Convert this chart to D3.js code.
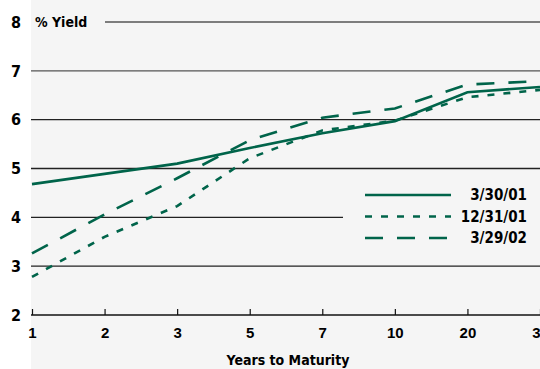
<!DOCTYPE html>
<html>
<head>
<meta charset="utf-8">
<script src="https://cdn.jsdelivr.net/npm/d3@7"></script>
<style>
  body { margin: 0; background: #fff; }
  svg { display: block; font-family: "Liberation Sans Narrow", "DejaVu Sans Condensed", "Liberation Sans", sans-serif; }
</style>
</head>
<body>
<svg id="chart"></svg>
<script>
const width = 540;
const height = 369;
const bg = '#f5f5f5';
const green = '#00644a';

// data
const maturities = ['1', '2', '3', '5', '7', '10', '20', '30'];
const yield033001 = [4.68, 4.89, 5.1, 5.42, 5.72, 5.97, 6.56, 6.67];
const yield123101 = [2.78, 3.6, 4.23, 5.21, 5.78, 5.98, 6.46, 6.61];
const yield032902 = [3.26, 4.06, 4.8, 5.58, 6.04, 6.23, 6.72, 6.79];
const yTicks = [2, 3, 4, 5, 6, 7, 8];

const series = [
  { label: '3/30/01', values: yield033001, dash: null },
  { label: '12/31/01', values: yield123101, dash: '7,9' },
  { label: '3/29/02', values: yield032902, dash: '18,14' },
];

const svg = d3.select('#chart').attr('width', width).attr('height', height);

// grey panel
svg.append('rect')
  .attr('x', 31).attr('y', 0)
  .attr('width', width - 31).attr('height', height)
  .attr('fill', bg);

const x = d3.scalePoint().domain(maturities).range([32, 540]);
const y = d3.scaleLinear().domain([2, 8]).range([315, 22]);

// gridlines
svg.append('g')
  .selectAll('line')
  .data(yTicks.filter(d => d > 2))
  .join('line')
    .attr('x1', d => d === 8 ? 105 : 31)
    .attr('x2', width)
    .attr('y1', d => y(d))
    .attr('y2', d => y(d))
    .attr('stroke', d => d >= 7 ? '#555' : '#222')
    .attr('stroke-width', 1.3);

// legend backing hides part of the 4% line
svg.append('rect')
  .attr('x', 343).attr('y', 182)
  .attr('width', width - 343).attr('height', 68)
  .attr('fill', bg);

// y labels
svg.append('g')
  .selectAll('text')
  .data(yTicks)
  .join('text')
    .attr('x', 16)
    .attr('y', d => y(d))
    .attr('dy', '0.36em')
    .attr('text-anchor', 'middle')
    .style('font-size', '16px')
    .style('font-weight', 'bold')
    .text(d => d);

svg.append('text')
  .attr('x', 35)
  .attr('y', y(8))
  .attr('dy', '0.36em')
  .style('font-size', '14px')
  .style('font-weight', 'bold')
  .text('% Yield');

// x axis, ticks point up
const xAxis = svg.append('g')
  .attr('transform', `translate(0, ${y(2)})`)
  .call(d3.axisBottom(x).tickSizeInner(-6).tickSizeOuter(0).tickPadding(12));
xAxis.select('.domain').attr('d', 'M31,0H540').attr('stroke', '#111').attr('stroke-width', 1.6);
xAxis.selectAll('.tick line').attr('stroke', '#111').attr('stroke-width', 1.2);
xAxis.selectAll('.tick text')
  .attr('fill', '#000')
  .style('font-size', '15px')
  .style('font-weight', 'bold')
  .style('font-family', 'inherit');

svg.append('text')
  .attr('x', 288)
  .attr('y', 365)
  .attr('text-anchor', 'middle')
  .style('font-size', '14px')
  .style('font-weight', 'bold')
  .text('Years to Maturity');

// curves
const line = d3.line()
  .x((d, i) => x(maturities[i]))
  .y(d => y(d));

svg.append('g')
  .selectAll('path')
  .data(series)
  .join('path')
    .attr('d', d => line(d.values))
    .attr('fill', 'none')
    .attr('stroke', green)
    .attr('stroke-width', 2.6)
    .attr('stroke-dasharray', d => d.dash);

// legend
const legend = svg.append('g')
  .selectAll('g')
  .data(series)
  .join('g')
    .attr('transform', (d, i) => `translate(0, ${195 + i * 21.5})`);
legend.append('line')
  .attr('x1', 365).attr('x2', 451)
  .attr('stroke', green)
  .attr('stroke-width', 2.6)
  .attr('stroke-dasharray', d => d.dash);
legend.append('text')
  .attr('x', 527)
  .attr('dy', '0.36em')
  .attr('text-anchor', 'end')
  .style('font-size', '15px')
  .style('font-weight', 'bold')
  .text(d => d.label);
</script>
</body>
</html>
